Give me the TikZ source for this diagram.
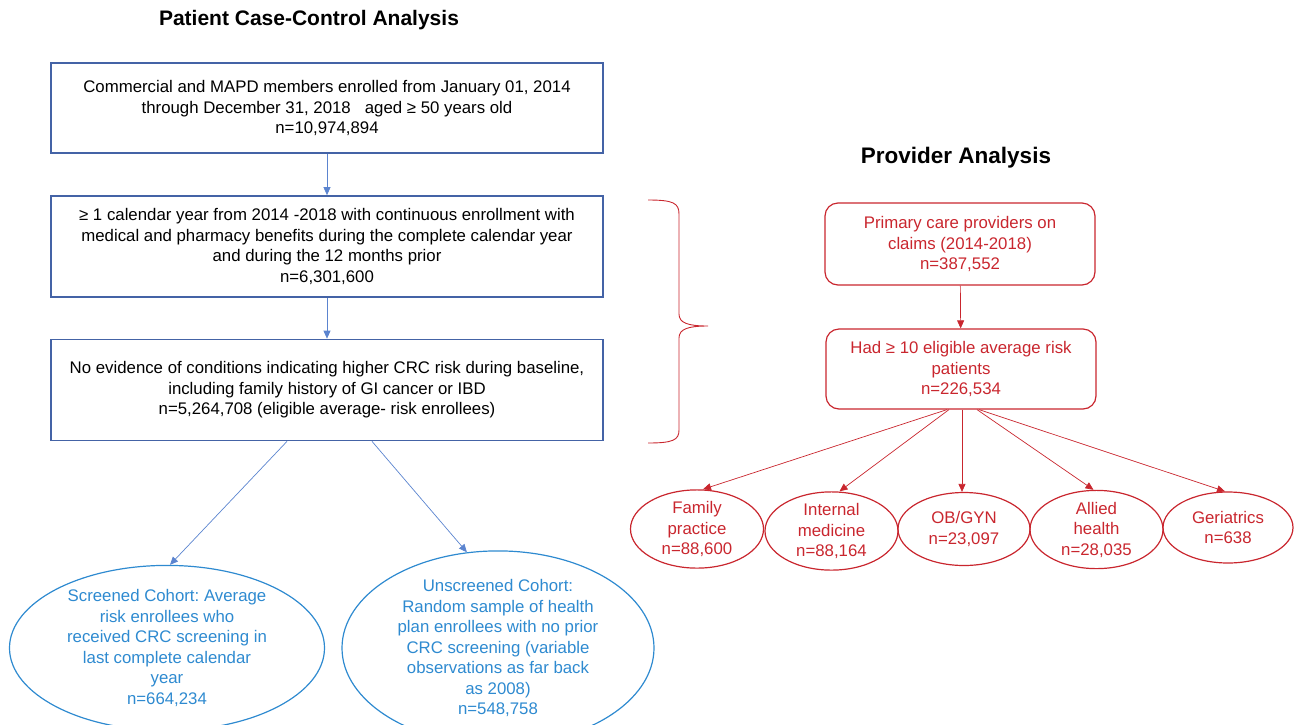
\documentclass[tikz,border=0pt]{standalone}
\usepackage{fontspec}
\setmainfont{Liberation Sans}
\usetikzlibrary{shapes.geometric,arrows.meta}
\frenchspacing

\definecolor{boxblue}{HTML}{4463A6}
\definecolor{lineblue}{HTML}{5B84CF}
\definecolor{ovalblue}{HTML}{2E8AD0}
\definecolor{provred}{HTML}{C9262E}

\tikzstyle{every node}=[align=center, inner sep=0pt, font=\fontsize{16.8}{20.5}\selectfont]
\tikzstyle{heading}=[font=\fontsize{21}{25}\selectfont\bfseries]
\tikzstyle{pbox}=[rectangle, draw=boxblue, line width=1.7pt, minimum width=552pt]
\tikzstyle{cohort}=[ellipse, draw=ovalblue, text=ovalblue, line width=1.2pt]
\tikzstyle{rbox}=[rectangle, rounded corners=13pt, draw=provred, text=provred, line width=1.2pt, minimum width=270pt]
\tikzstyle{spec}=[ellipse, draw=provred, text=provred, line width=1.2pt, minimum width=133pt, minimum height=73pt]
\tikzstyle{barrow}=[color=lineblue, line width=0.7pt, -{Triangle[length=8pt,width=7pt]}]
\tikzstyle{rarrow}=[color=provred, line width=0.7pt, -{Triangle[length=8pt,width=7pt]}]

\begin{document}
\begin{tikzpicture}[x=1pt,y=-1pt]
    \useasboundingbox (0,0) rectangle (1294,724);

    % patient side
    \node[heading] (pt) at (309,20) {Patient Case-Control Analysis};
    \node[pbox, minimum height=90pt] (b1) at (327,108) {Commercial and MAPD members enrolled from January 01, 2014\\through December 31, 2018\ \ \ aged ≥ 50 years old\\n=10,974,894};
    \node[pbox, minimum height=101pt] (b2) at (327,246.5) {≥ 1 calendar year from 2014 -2018 with continuous enrollment with\\medical and pharmacy benefits during the complete calendar year\\and during the 12 months prior\\n=6,301,600};
    \node[pbox, minimum height=101pt] (b3) at (327,390) {No evidence of conditions indicating higher CRC risk during baseline,\\including family history of GI cancer or IBD\\n=5,264,708 (eligible average- risk enrollees)};
    \node[cohort, minimum width=315pt, minimum height=156pt] (sc) at (167,648) {Screened Cohort: Average\\risk enrollees who\\received CRC screening in\\last complete calendar\\year\\n=664,234};
    \node[cohort, minimum width=312pt, minimum height=160pt] (uc) at (498,648) {Unscreened Cohort:\\Random sample of health\\plan enrollees with no prior\\CRC screening (variable\\observations as far back\\as 2008)\\n=548,758};

    % provider side
    \node[heading, font=\fontsize{22.5}{26}\selectfont\bfseries] (pa) at (956,158) {Provider Analysis};
    \node[rbox, minimum height=82pt] (r1) at (960,244) {Primary care providers on\\claims (2014-2018)\\n=387,552};
    \node[rbox, minimum height=80pt] (r2) at (961,369) {Had ≥ 10 eligible average risk\\patients\\n=226,534};
    \node[spec] (fp) at (697,529) {Family\\practice\\n=88,600};
    \node[spec] (im) at (831.5,531) {Internal\\medicine\\n=88,164};
    \node[spec, minimum width=132pt] (ob) at (964,529) {OB/GYN\\n=23,097};
    \node[spec, minimum height=75pt] (ah) at (1096.5,529.5) {Allied\\health\\n=28,035};
    \node[spec, minimum width=130pt, minimum height=71pt] (ge) at (1228,527.5) {Geriatrics\\n=638};

    \path[barrow]
    (b1) edge (b2)
    (b2) edge (b3)
    ([xshift=-40pt]b3.south) edge ([xshift=3pt]sc.north)
    ([xshift=45pt]b3.south) edge (uc.108)
    ;
    \path[rarrow]
    (r1) edge (r2)
    ([xshift=-14pt]r2.south) edge ([xshift=6pt]fp.north)
    ([xshift=-12pt]r2.south) edge ([xshift=8pt]im.north)
    ([xshift=1pt]r2.south) edge ([xshift=-2pt]ob.north)
    ([xshift=16pt]r2.south) edge ([xshift=-3pt]ah.north)
    ([xshift=18pt]r2.south) edge ([xshift=-3pt]ge.north)
    ;

    % brace joining the two analyses
    \draw[provred, line width=0.9pt] (648,200) .. controls (673,200) and (679,203) .. (679,214)
        -- (679,314) .. controls (679,323) and (688,326) .. (708,326)
        .. controls (688,326) and (679,329) .. (679,338)
        -- (679,430) .. controls (679,440) and (673,443) .. (648,443);
\end{tikzpicture}
\end{document}
